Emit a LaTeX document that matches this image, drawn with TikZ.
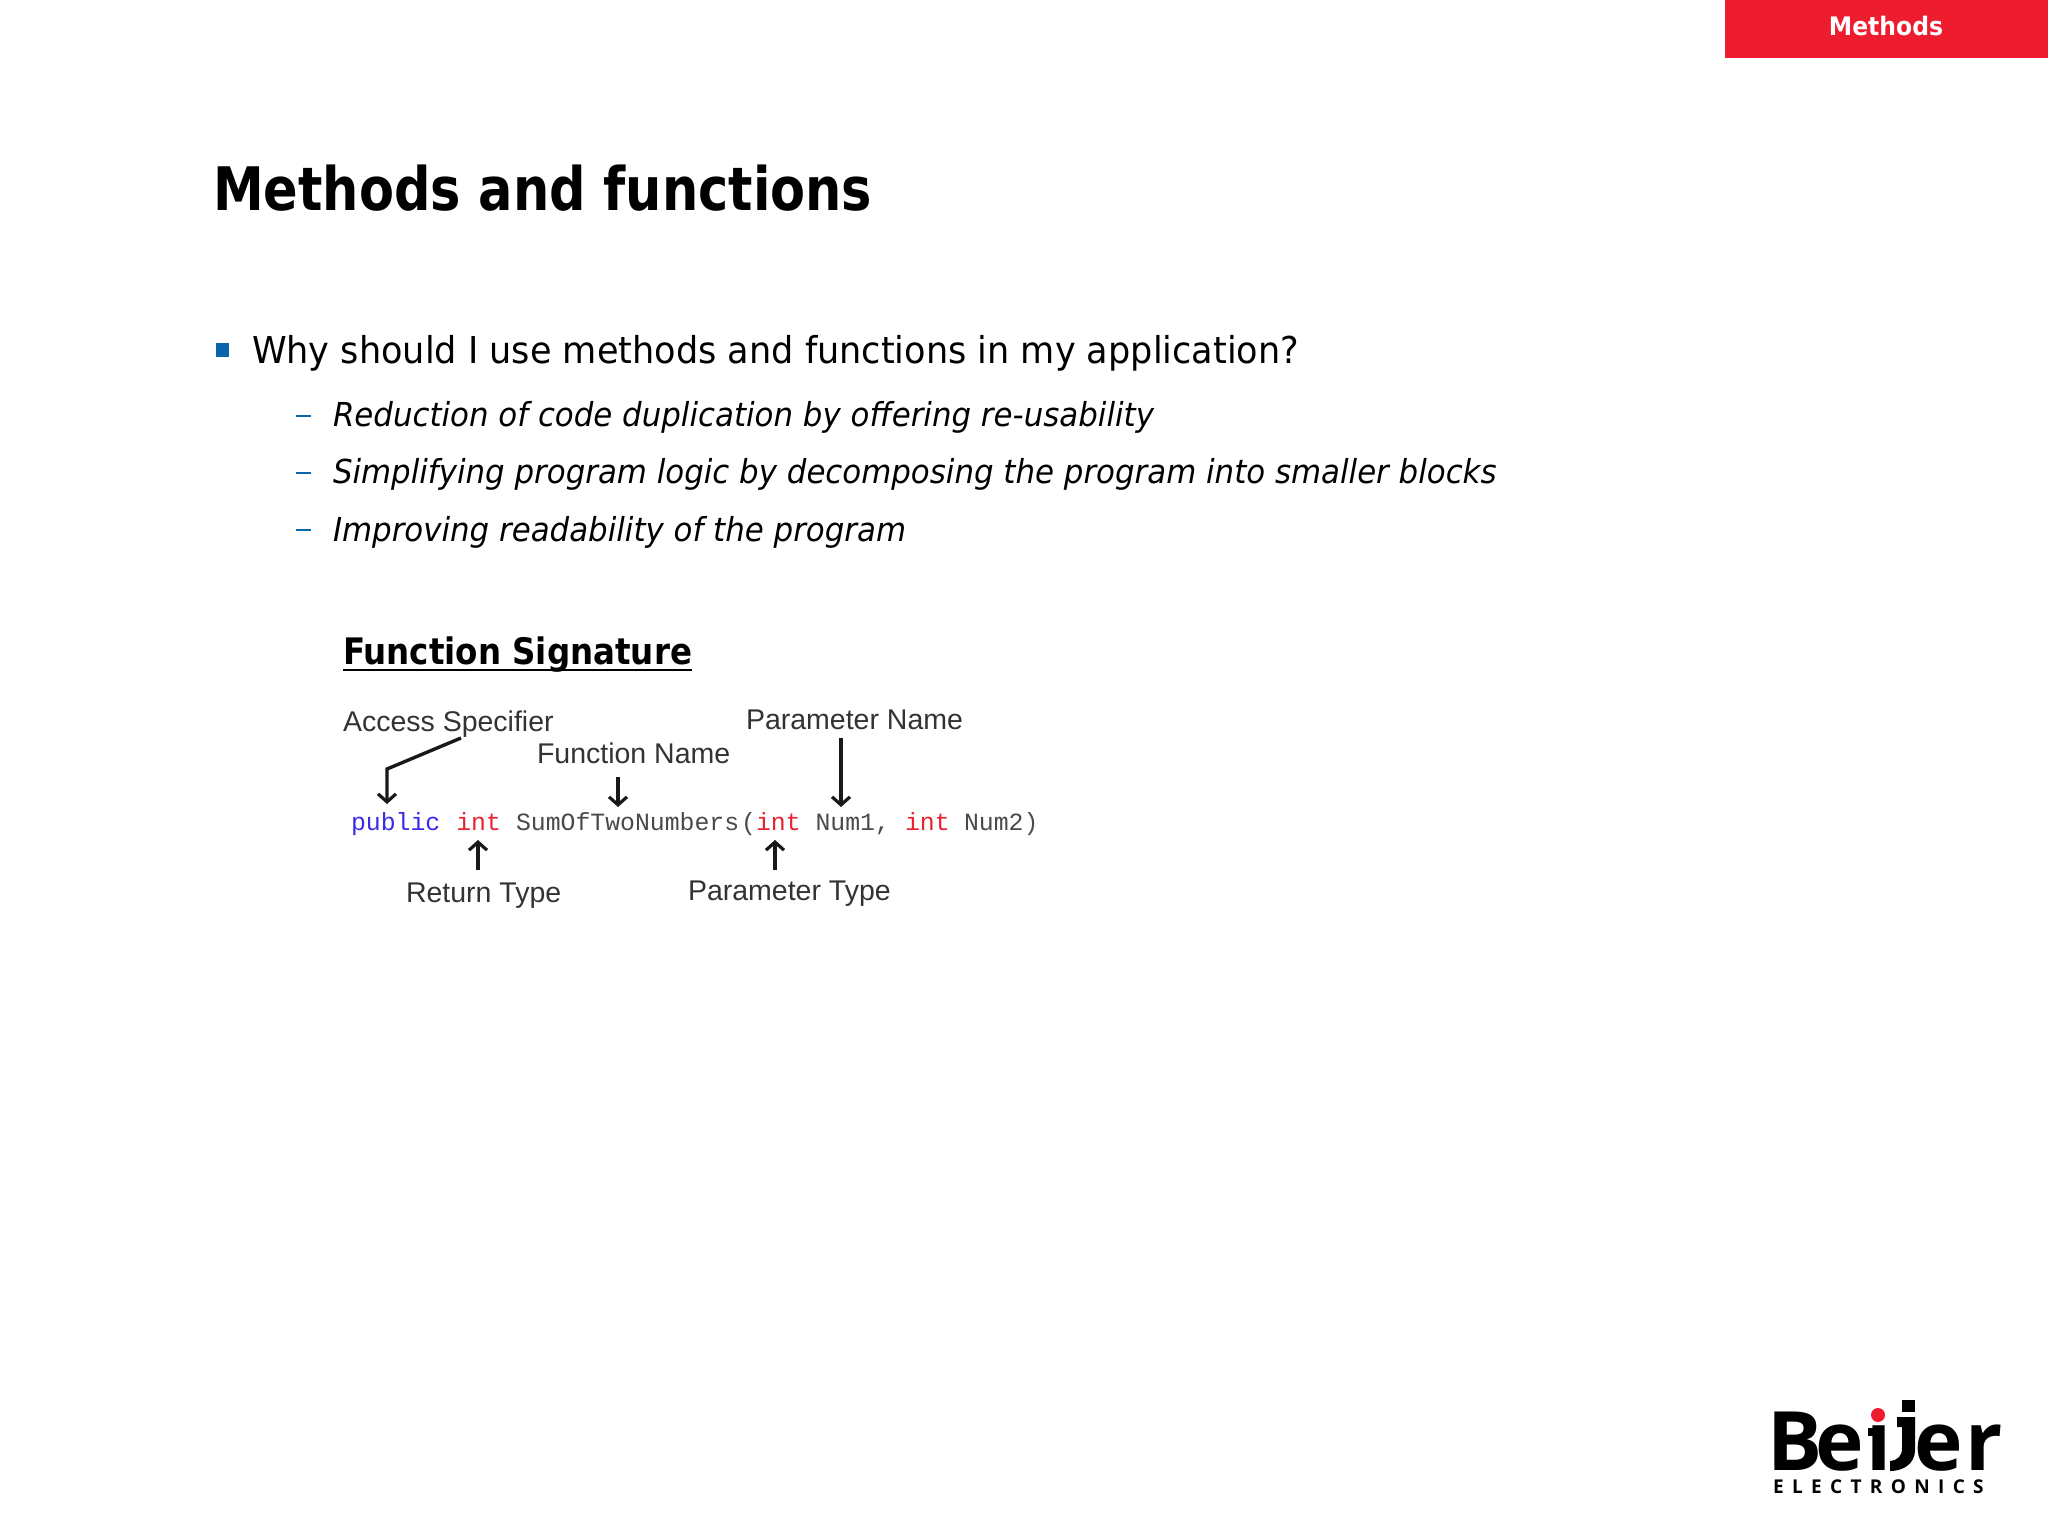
\documentclass[tikz,border=0pt]{standalone}
\usepackage{fontspec}
\setmainfont{DejaVu Sans}[FakeStretch=0.948]
\newfontfamily\subfont{DejaVu Sans}[FakeStretch=0.935]
\newfontfamily\boldfont{DejaVu Sans}[FakeStretch=0.85]
\newfontfamily\sigfont{DejaVu Sans}[FakeStretch=0.89]
\newfontfamily\tabfont{DejaVu Sans}[FakeStretch=0.92]
\newfontfamily\labfont{Liberation Sans}
\newfontfamily\codefont{Liberation Mono}
\newfontfamily\logofont{Open Sans}
\newfontfamily\logospaced{Open Sans}[LetterSpace=44]
\definecolor{beijerred}{HTML}{ED1C2E}
\definecolor{bulletblue}{HTML}{0A66AA}
\definecolor{labgray}{HTML}{333333}
\definecolor{codeblue}{HTML}{3A2BE8}
\definecolor{codered}{HTML}{E8232F}
\definecolor{codegray}{HTML}{4A4A4A}
\newcommand{\fsz}[1]{\fontsize{#1}{#1}\selectfont}
\usetikzlibrary{arrows.meta}
\tikzset{
  txt/.style={anchor=base west,inner sep=0pt,outer sep=0pt},
  sub/.style={txt,font=\subfont\fsz{33}\itshape,text=black},
  lab/.style={txt,font=\labfont\fsz{28.5},text=labgray},
  code/.style={txt,font=\codefont\fsz{24.8}},
  arr/.style={line width=3.4pt,black!90,-{Straight Barb[length=8pt,width=18pt,line width=3.2pt]}},
  dashmark/.style={line width=2.4pt,bulletblue},
  logo/.style={txt,font=\logofont\bfseries\fsz{82}}
}
\begin{document}
\begin{tikzpicture}[x=1pt,y=-1pt]
\useasboundingbox (0,0) rectangle (2048,1536);
\fill[white] (0,0) rectangle (2048,1536);
% tab
\node[fill=beijerred,minimum width=323pt,minimum height=58pt,inner sep=0pt,anchor=north west] (tab) at (1725,0) {};
\node[font=\tabfont\bfseries\fsz{25.5},text=white] (tabtxt) at (1886,26) {Methods};
% title
\node[txt,font=\boldfont\bfseries\fsz{60}] (title) at (213,210) {Methods and functions};
% bullets
\fill[bulletblue] (216,343) rectangle (229,357);
\node[txt,font=\fsz{37}] (q) at (252,363) {Why should I use methods and functions in my application?};
\draw[dashmark] (296,416) -- (311,416);
\draw[dashmark] (296,473) -- (311,473);
\draw[dashmark] (296,530) -- (311,530);
\node[sub] (s1) at (333,426) {Reduction of code duplication by offering re-usability};
\node[sub] (s2) at (333,483) {Simplifying program logic by decomposing the program into smaller blocks};
\node[sub] (s3) at (333,541) {Improving readability of the program};
% figure
\node[txt,font=\sigfont\bfseries\fsz{36.5}] (fs) at (343,664) {Function Signature};
\draw[line width=2.6pt] (fs.base west)+(0,6) -- ([yshift=-6pt]fs.base east);
\node[lab] (as) at (343,731) {Access Specifier};
\node[lab] (pn) at (746,729) {Parameter Name};
\node[lab] (fn) at (537,763) {Function Name};
\node[lab] (rt) at (406,902) {Return Type};
\node[lab] (pt) at (688,900) {Parameter Type};
\node[code,text=codeblue] (cpub) at (351,830) {public};
\node[code,text=codered] (cint) at (456.3,830) {int};
\node[code,text=codegray] (csum) at (516,830) {SumOfTwoNumbers};
\node[code,text=codegray] (cpar) at (741,830) {(};
\node[code,text=codered] (cint2) at (756,830) {int};
\node[code,text=codegray] (cn1) at (815.5,830) {Num1,};
\node[code,text=codered] (cint3) at (905,830) {int};
\node[code,text=codegray] (cn2) at (964,830) {Num2)};
\coordinate (a0) at (461,738);
\coordinate (a1) at (387,769);
\coordinate (a2) at (387,804);
\draw[arr] (a0) -- (a1) -- (a2);
\coordinate (b0) at (618,777);
\coordinate (b1) at (618,807);
\draw[arr] (b0) -- (b1);
\coordinate (c0) at (841,738);
\coordinate (c1) at (841,807);
\draw[arr] (c0) -- (c1);
\coordinate (d0) at (478,870);
\coordinate (d1) at (478,840);
\draw[arr] (d0) -- (d1);
\coordinate (e0) at (775,870);
\coordinate (e1) at (775,840);
\draw[arr] (e0) -- (e1);
% logo
\node[logo] (lb) at (1767,1470) {B};
\node[logo] (le) at (1815,1470) {e};
\node[logo] (li) at (1866,1470) {ı};
\node[logo] (le2) at (1914,1470) {e};
\node[logo] (lr) at (1965,1470) {r};
\fill[black] (1868,1428) rectangle (1880,1436);
\fill[beijerred] (1878,1415) circle (7);
\fill[black] (1902,1400) rectangle (1915,1412);
\fill[black] (1897,1417) -- (1915,1417) -- (1915,1450) .. controls (1915,1464) and (1903,1471) .. (1890,1471) -- (1890,1461) .. controls (1898,1460) and (1902,1456) .. (1902,1448) -- (1902,1427) -- (1897,1427) -- cycle;
\node[txt,font=\logospaced\bfseries\fsz{19}] (lel) at (1773,1493) {ELECTRONICS};
\end{tikzpicture}
\end{document}
